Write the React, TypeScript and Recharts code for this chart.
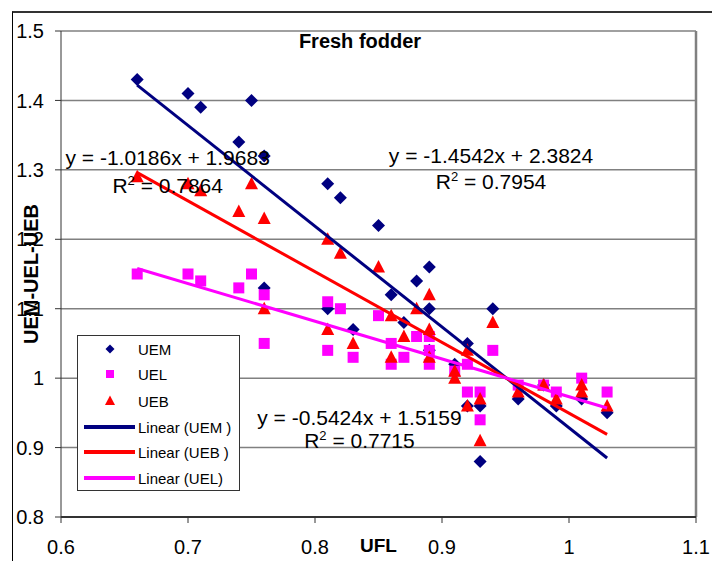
import React from 'react';
import { ScatterChart, Scatter, XAxis, YAxis, CartesianGrid, ReferenceLine, ReferenceDot, Legend, Label } from 'recharts';

// UFL vs UEM / UEL / UEB
const uemPoints = [
  [0.66, 1.43], [0.70, 1.41], [0.71, 1.39], [0.74, 1.34], [0.75, 1.40], [0.76, 1.32], [0.76, 1.13],
  [0.81, 1.28], [0.82, 1.26], [0.85, 1.22], [0.89, 1.16], [0.88, 1.14], [0.86, 1.12], [0.89, 1.10],
  [0.81, 1.10], [0.83, 1.07], [0.87, 1.08], [0.89, 1.04], [0.92, 1.05], [0.91, 1.02], [0.94, 1.10],
  [0.92, 0.96], [0.93, 0.96], [0.93, 0.88], [0.96, 0.97], [0.98, 0.99], [0.99, 0.96], [1.01, 0.97],
  [1.03, 0.95],
];
const uelPoints = [
  [0.66, 1.15], [0.70, 1.15], [0.71, 1.14], [0.74, 1.13], [0.75, 1.15], [0.76, 1.12], [0.76, 1.05],
  [0.81, 1.11], [0.82, 1.10], [0.81, 1.04], [0.83, 1.03], [0.85, 1.09], [0.86, 1.05], [0.86, 1.02],
  [0.87, 1.03], [0.88, 1.06], [0.89, 1.06], [0.89, 1.04], [0.89, 1.02], [0.91, 1.01], [0.92, 1.02],
  [0.92, 0.98], [0.94, 1.04], [0.93, 0.98], [0.93, 0.94], [0.96, 0.99], [0.98, 0.99], [0.99, 0.98],
  [1.01, 1.00], [1.03, 0.98],
];
const uebPoints = [
  [0.66, 1.29], [0.70, 1.28], [0.71, 1.27], [0.74, 1.24], [0.75, 1.28], [0.76, 1.23], [0.76, 1.10],
  [0.81, 1.20], [0.82, 1.18], [0.85, 1.16], [0.89, 1.12], [0.81, 1.07], [0.83, 1.05], [0.86, 1.09],
  [0.87, 1.06], [0.88, 1.10], [0.89, 1.07], [0.86, 1.03], [0.89, 1.03], [0.91, 1.01], [0.91, 1.00],
  [0.92, 1.04], [0.94, 1.08], [0.92, 0.96], [0.93, 0.97], [0.93, 0.91], [0.96, 0.98], [0.98, 0.99],
  [0.99, 0.97], [1.01, 0.99], [1.01, 0.98], [1.03, 0.96],
];

// trendline end points
const uemTrend = [[0.66, 1.422], [1.03, 0.885]];
const uebTrend = [[0.66, 1.296], [1.03, 0.919]];
const uelTrend = [[0.66, 1.158], [1.03, 0.957]];

const xTicks = [0.6, 0.7, 0.8, 0.9, 1, 1.1];
const yTicks = [0.8, 0.9, 1, 1.1, 1.2, 1.3, 1.4, 1.5];

const equations = ['y = -1.0186x + 1.9683', 'y = -1.4542x + 2.3824', 'y = -0.5424x + 1.5159'];
const r2Values = ['0.7864', '0.7954', '0.7715'];
const eqAt = [[0.684, 1.318, 1.277], [0.9386, 1.321, 1.282], [0.835, 0.944, 0.909]];

const NAVY = '#000080';
const RED = '#FF0000';
const MAGENTA = '#FF00FF';

const toXY = (pts: number[][]) => pts.map(([x, y]) => ({ x, y }));

const Diamond = ({ cx, cy, s = 6.5 }: any) => (
  <polygon points={`${cx},${cy - s} ${cx + s},${cy} ${cx},${cy + s} ${cx - s},${cy}`} fill={NAVY} />
);
const Square = ({ cx, cy, s = 5.5 }: any) => <rect x={cx - s} y={cy - s} width={s * 2} height={s * 2} fill={MAGENTA} />;
const Triangle = ({ cx, cy, s = 6.5 }: any) => (
  <polygon points={`${cx},${cy - s - 0.5} ${cx + s},${cy + s - 1} ${cx - s},${cy + s - 1}`} fill={RED} />
);
const NoDot = () => <g />;

const legendRows = [
  { label: 'UEM', mark: 'diamond', color: NAVY },
  { label: 'UEL', mark: 'square', color: MAGENTA },
  { label: 'UEB', mark: 'triangle', color: RED },
  { label: 'Linear (UEM )', mark: 'line', color: NAVY },
  { label: 'Linear (UEB )', mark: 'line', color: RED },
  { label: 'Linear (UEL)', mark: 'line', color: MAGENTA },
];
const legendRowY = [14, 39, 66, 92, 117, 143];

const LegendBox = () => (
  <svg width={163} height={156} style={{ display: 'block' }}>
    <rect x={0.5} y={0.5} width={162} height={155} fill="#fff" stroke="#333" />
    {legendRows.map((r, i) => {
      const y = legendRowY[i];
      return (
        <g key={r.label}>
          {r.mark === 'diamond' && <Diamond cx={33} cy={y} s={4.5} />}
          {r.mark === 'square' && <Square cx={33} cy={y} s={4} />}
          {r.mark === 'triangle' && <Triangle cx={33} cy={y} s={5} />}
          {r.mark === 'line' && <line x1={7} x2={58} y1={y} y2={y} stroke={r.color} strokeWidth={4} />}
          <text x={61} y={y} fontSize={15} dominantBaseline="central" fill="#000">{r.label}</text>
        </g>
      );
    })}
  </svg>
);

const EqText = (text: string) => (props: any) => (
  <text x={props.cx} y={props.cy} textAnchor="middle" dominantBaseline="central" fontSize={21} fill="#000">{text}</text>
);
const R2Text = (value: string) => (props: any) => (
  <text x={props.cx} y={props.cy + 7} textAnchor="middle" fontSize={21} fill="#000">
    R<tspan fontSize={13} dy={-8}>2</tspan><tspan dy={8}>{` = ${value}`}</tspan>
  </text>
);

export default function App() {
  return (
    <div style={{ position: 'absolute', left: 0, top: 0, width: 712, height: 561, overflow: 'hidden', background: '#fff', fontFamily: '"Liberation Sans", Arial, sans-serif' }}>
      <div style={{ position: 'absolute', left: 12, top: 11, width: 800, height: 700, borderLeft: '1px solid #000', borderTop: '2px solid #333' }} />
      <ScatterChart width={712} height={561} margin={{ top: 31, right: 16, bottom: 14, left: 0 }}>
        <CartesianGrid vertical={false} stroke="#808080" strokeWidth={1.5} />
        <XAxis
          type="number"
          dataKey="x"
          domain={[0.6, 1.1]}
          ticks={xTicks}
          interval={0}
          height={30}
          tick={{ fontSize: 20, fill: '#000' }}
          tickSize={6}
          tickMargin={17}
          axisLine={{ stroke: '#333', strokeWidth: 2 }}
          tickLine={{ stroke: '#333' }}
        >
          <Label value="UFL" position="bottom" offset={-8} dx={0} style={{ fontSize: 19, fontWeight: 'bold', fill: '#000' }} />
        </XAxis>
        <YAxis
          type="number"
          dataKey="y"
          domain={[0.8, 1.5]}
          ticks={yTicks}
          interval={0}
          width={61}
          tick={{ fontSize: 20, fill: '#000' }}
          tickSize={6}
          tickMargin={11}
          axisLine={{ stroke: '#333' }}
          tickLine={{ stroke: '#333' }}
        >
          <Label value="UEM-UEL-UEB" angle={-90} position="insideLeft" offset={31} style={{ fontSize: 20, fontWeight: 'bold', fill: '#000', textAnchor: 'middle' }} />
        </YAxis>
        <ReferenceLine x={1.1} stroke="#808080" strokeWidth={2.5} />
        <Legend
          layout="vertical"
          align="center"
          verticalAlign="middle"
          wrapperStyle={{ left: 77, top: 335, width: 163, height: 156 }}
          content={() => <LegendBox />}
        />
        <Scatter name="UEM" data={toXY(uemPoints)} shape={(p: any) => <Diamond cx={p.cx} cy={p.cy} />} isAnimationActive={false} />
        <Scatter name="UEL" data={toXY(uelPoints)} shape={(p: any) => <Square cx={p.cx} cy={p.cy} />} isAnimationActive={false} />
        <Scatter name="UEB" data={toXY(uebPoints)} shape={(p: any) => <Triangle cx={p.cx} cy={p.cy} />} isAnimationActive={false} />
        <Scatter name="Linear (UEM )" data={toXY(uemTrend)} line={{ stroke: NAVY, strokeWidth: 3 }} shape={NoDot} isAnimationActive={false} />
        <Scatter name="Linear (UEB )" data={toXY(uebTrend)} line={{ stroke: RED, strokeWidth: 3 }} shape={NoDot} isAnimationActive={false} />
        <Scatter name="Linear (UEL)" data={toXY(uelTrend)} line={{ stroke: MAGENTA, strokeWidth: 3 }} shape={NoDot} isAnimationActive={false} />
        {equations.map((eq, i) => (
          <ReferenceDot key={eq} x={eqAt[i][0]} y={eqAt[i][1]} r={0} shape={EqText(eq)} />
        ))}
        {r2Values.map((v, i) => (
          <ReferenceDot key={v} x={eqAt[i][0]} y={eqAt[i][2]} r={0} shape={R2Text(v)} />
        ))}
      </ScatterChart>
      <div style={{ position: 'absolute', left: 280, top: 29, width: 160, textAlign: 'center', fontSize: 20, fontWeight: 'bold', lineHeight: '24px' }}>
        Fresh fodder
      </div>
    </div>
  );
}
